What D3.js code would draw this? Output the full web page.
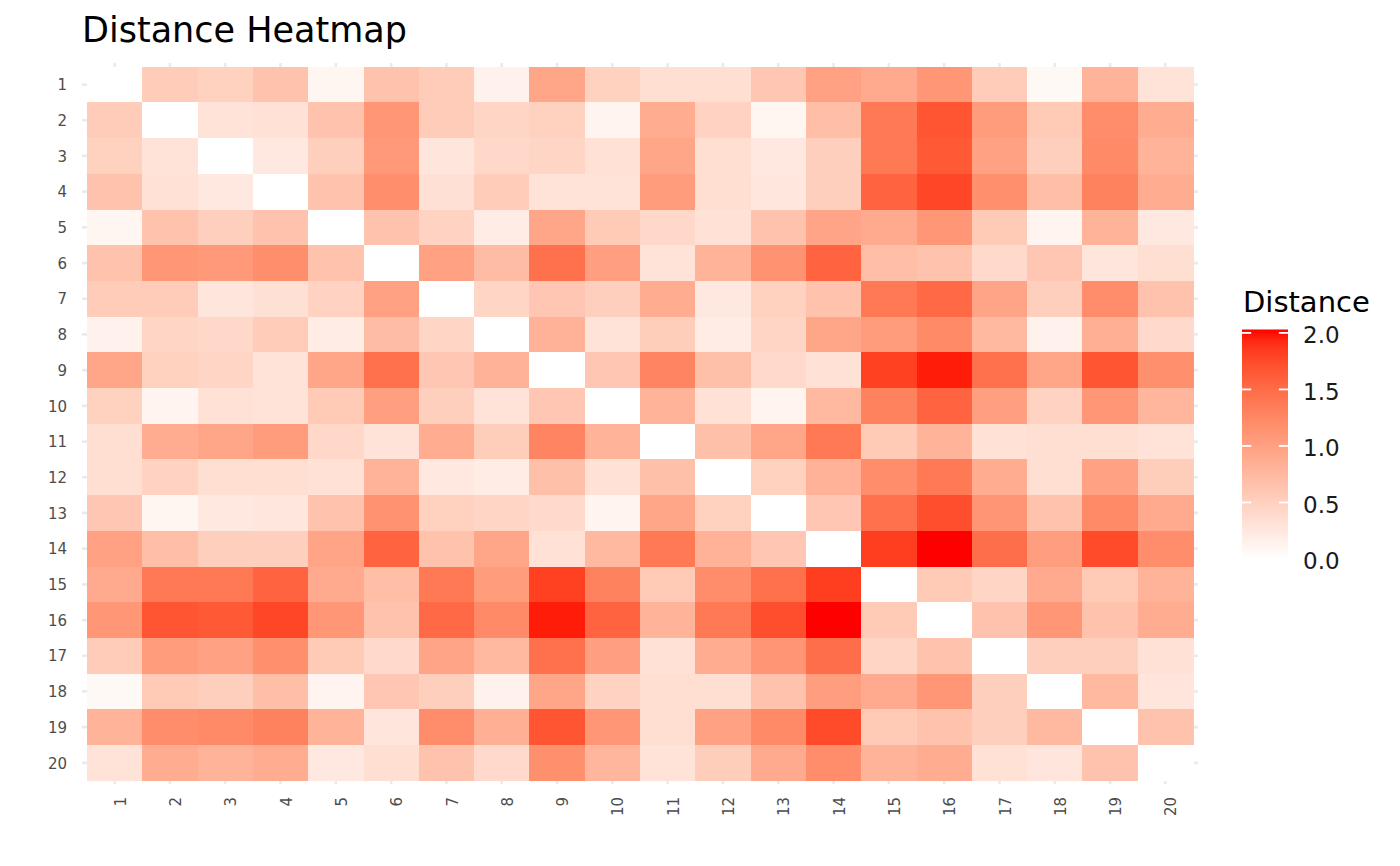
<!DOCTYPE html>
<html>
<head>
<meta charset="utf-8">
<script src="https://cdn.jsdelivr.net/npm/d3@7"></script>
<style>
  body { margin: 0; background: #fff; }
  svg { font-family: "DejaVu Sans", sans-serif; }
</style>
</head>
<body>
<svg width="1400" height="866"></svg>
<script>
// item labels, shared by both axes
const items = d3.range(1, 21).map(String);

// distance matrix, one row per item
const distances = [
  [0, .55, .50, .65, .10, .65, .55, .15, .95, .50, .35, .35, .60, 1.00, .90, 1.10, .55, .07, .80, .30],
  [.55, 0, .30, .32, .65, 1.10, .55, .45, .50, .12, .88, .48, .10, .70, 1.38, 1.68, 1.05, .57, 1.20, .88],
  [.50, .30, 0, .25, .52, 1.08, .27, .42, .45, .32, .95, .35, .25, .52, 1.38, 1.65, 1.00, .52, 1.22, .80],
  [.65, .32, .25, 0, .65, 1.18, .33, .55, .30, .30, 1.05, .35, .26, .52, 1.57, 1.78, 1.17, .70, 1.30, .88],
  [.10, .65, .52, .65, 0, .65, .48, .20, .95, .57, .42, .32, .65, .97, .90, 1.10, .57, .12, .80, .25],
  [.65, 1.10, 1.08, 1.18, .65, 0, 1.00, .72, 1.45, 1.02, .30, .80, 1.15, 1.57, .70, .65, .40, .60, .28, .35],
  [.55, .55, .27, .33, .48, 1.00, 0, .45, .60, .52, .88, .25, .50, .65, 1.38, 1.52, .97, .52, 1.20, .65],
  [.15, .45, .42, .55, .20, .72, .45, 0, .82, .30, .53, .20, .45, .95, 1.05, 1.22, .75, .15, .85, .40],
  [.95, .50, .45, .30, .95, 1.45, .60, .82, 0, .60, 1.27, .68, .40, .32, 1.82, 1.98, 1.45, .95, 1.68, 1.17],
  [.50, .12, .32, .30, .57, 1.02, .52, .30, .60, 0, .80, .32, .12, .75, 1.30, 1.57, 1.02, .48, 1.10, .78],
  [.35, .88, .95, 1.05, .42, .30, .88, .53, 1.27, .80, 0, .68, .95, 1.38, .57, .80, .32, .35, .35, .30],
  [.35, .48, .35, .35, .32, .80, .25, .20, .68, .32, .68, 0, .50, .82, 1.20, 1.38, .88, .35, 1.00, .53],
  [.60, .10, .25, .26, .65, 1.15, .50, .45, .40, .12, .95, .50, 0, .60, 1.45, 1.73, 1.12, .65, 1.22, .90],
  [1.00, .70, .52, .52, .97, 1.57, .65, .95, .32, .75, 1.38, .82, .60, 0, 1.83, 2.03, 1.48, 1.03, 1.75, 1.20],
  [.90, 1.38, 1.38, 1.57, .90, .70, 1.38, 1.05, 1.82, 1.30, .57, 1.20, 1.45, 1.83, 0, .57, .45, .90, .57, .80],
  [1.10, 1.68, 1.65, 1.78, 1.10, .65, 1.52, 1.22, 1.98, 1.57, .80, 1.38, 1.73, 2.03, .57, 0, .65, 1.10, .65, .88],
  [.55, 1.05, 1.00, 1.17, .57, .40, .97, .75, 1.45, 1.02, .32, .88, 1.12, 1.48, .45, .65, 0, .52, .52, .32],
  [.07, .57, .52, .70, .12, .60, .52, .15, .95, .48, .35, .35, .65, 1.03, .90, 1.10, .52, 0, .75, .28],
  [.80, 1.20, 1.22, 1.30, .80, .28, 1.20, .85, 1.68, 1.10, .35, 1.00, 1.22, 1.75, .57, .65, .52, .75, 0, .65],
  [.30, .88, .80, .88, .25, .35, .65, .40, 1.17, .78, .30, .53, .90, 1.20, .80, .88, .32, .28, .65, 0]
];

// legend breaks
const legendTicks = [0, 0.5, 1.0, 1.5, 2.0];

const svg = d3.select("svg");

// flatten into cells
const cells = [];
distances.forEach((row, i) => row.forEach((v, j) => cells.push({ row: items[i], col: items[j], value: v })));

const maxVal = d3.max(cells, (d) => d.value);

const x = d3.scaleBand().domain(items).range([87, 1193]);
const y = d3.scaleBand().domain(items).range([66.7, 780.7]);
const color = d3.scaleLinear().domain([0, maxVal]).range(["white", "red"]).interpolate(d3.interpolateLab);

// grid lines (only peek out around the tiles)
const grid = svg.append("g").attr("stroke", "#ebebeb").attr("stroke-width", 2.7);
grid.selectAll(".gx").data(items).enter().append("line")
  .attr("x1", (d) => x(d) + x.bandwidth() / 2).attr("x2", (d) => x(d) + x.bandwidth() / 2)
  .attr("y1", 63).attr("y2", 784);
grid.selectAll(".gy").data(items).enter().append("line")
  .attr("y1", (d) => y(d) + y.bandwidth() / 2).attr("y2", (d) => y(d) + y.bandwidth() / 2)
  .attr("x1", 82).attr("x2", 1198);

// tiles
svg.append("g").selectAll("rect").data(cells).enter().append("rect")
  .attr("x", (d) => x(d.col))
  .attr("y", (d) => y(d.row))
  .attr("width", x.bandwidth() + 0.5)
  .attr("height", y.bandwidth() + 0.5)
  .attr("fill", (d) => color(d.value))
  .attr("shape-rendering", "crispEdges");

// y axis labels
svg.append("g").selectAll("text").data(items).enter().append("text")
  .attr("x", 67)
  .attr("y", (d) => y(d) + y.bandwidth() / 2)
  .attr("dy", "0.38em")
  .attr("text-anchor", "end")
  .attr("font-size", 15)
  .attr("fill", "#4d4d4d")
  .text((d) => d);

// x axis labels, rotated
svg.append("g").selectAll("text").data(items).enter().append("text")
  .attr("transform", (d) => `translate(${x(d) + x.bandwidth() / 2},797) rotate(-90)`)
  .attr("dy", "0.74em")
  .attr("text-anchor", "end")
  .attr("font-size", 15)
  .attr("fill", "#4d4d4d")
  .text((d) => d);

// title
svg.append("text")
  .attr("x", 82).attr("y", 42)
  .attr("font-size", 35)
  .attr("fill", "#000")
  .text("Distance Heatmap");

// legend colourbar
const barTop = 329.5, barBottom = 559, barLeft = 1242, barW = 46;
const ly = d3.scaleLinear().domain([0, maxVal]).range([barBottom, barTop]);

const grad = svg.append("defs").append("linearGradient")
  .attr("id", "bar").attr("x1", 0).attr("x2", 0).attr("y1", 1).attr("y2", 0);
grad.selectAll("stop").data(d3.range(0, 1.0001, 0.05)).enter().append("stop")
  .attr("offset", (t) => t)
  .attr("stop-color", (t) => color(t * maxVal));

svg.append("rect")
  .attr("x", barLeft).attr("y", barTop)
  .attr("width", barW).attr("height", barBottom - barTop)
  .attr("fill", "url(#bar)");

const tk = svg.append("g").attr("stroke", "white").attr("stroke-width", 1.8);
tk.selectAll(".tl").data(legendTicks).enter().append("line")
  .attr("x1", barLeft).attr("x2", barLeft + 9.2)
  .attr("y1", (d) => ly(d)).attr("y2", (d) => ly(d));
tk.selectAll(".tr").data(legendTicks).enter().append("line")
  .attr("x1", barLeft + barW - 9.2).attr("x2", barLeft + barW)
  .attr("y1", (d) => ly(d)).attr("y2", (d) => ly(d));

svg.append("g").selectAll("text").data(legendTicks).enter().append("text")
  .attr("x", 1303)
  .attr("y", (d) => ly(d))
  .attr("dy", "0.45em")
  .attr("font-size", 23)
  .attr("fill", "#1a1a1a")
  .text((d) => d.toFixed(1));

svg.append("text")
  .attr("x", 1243).attr("y", 312)
  .attr("font-size", 29)
  .attr("fill", "#000")
  .text("Distance");
</script>
</body>
</html>
